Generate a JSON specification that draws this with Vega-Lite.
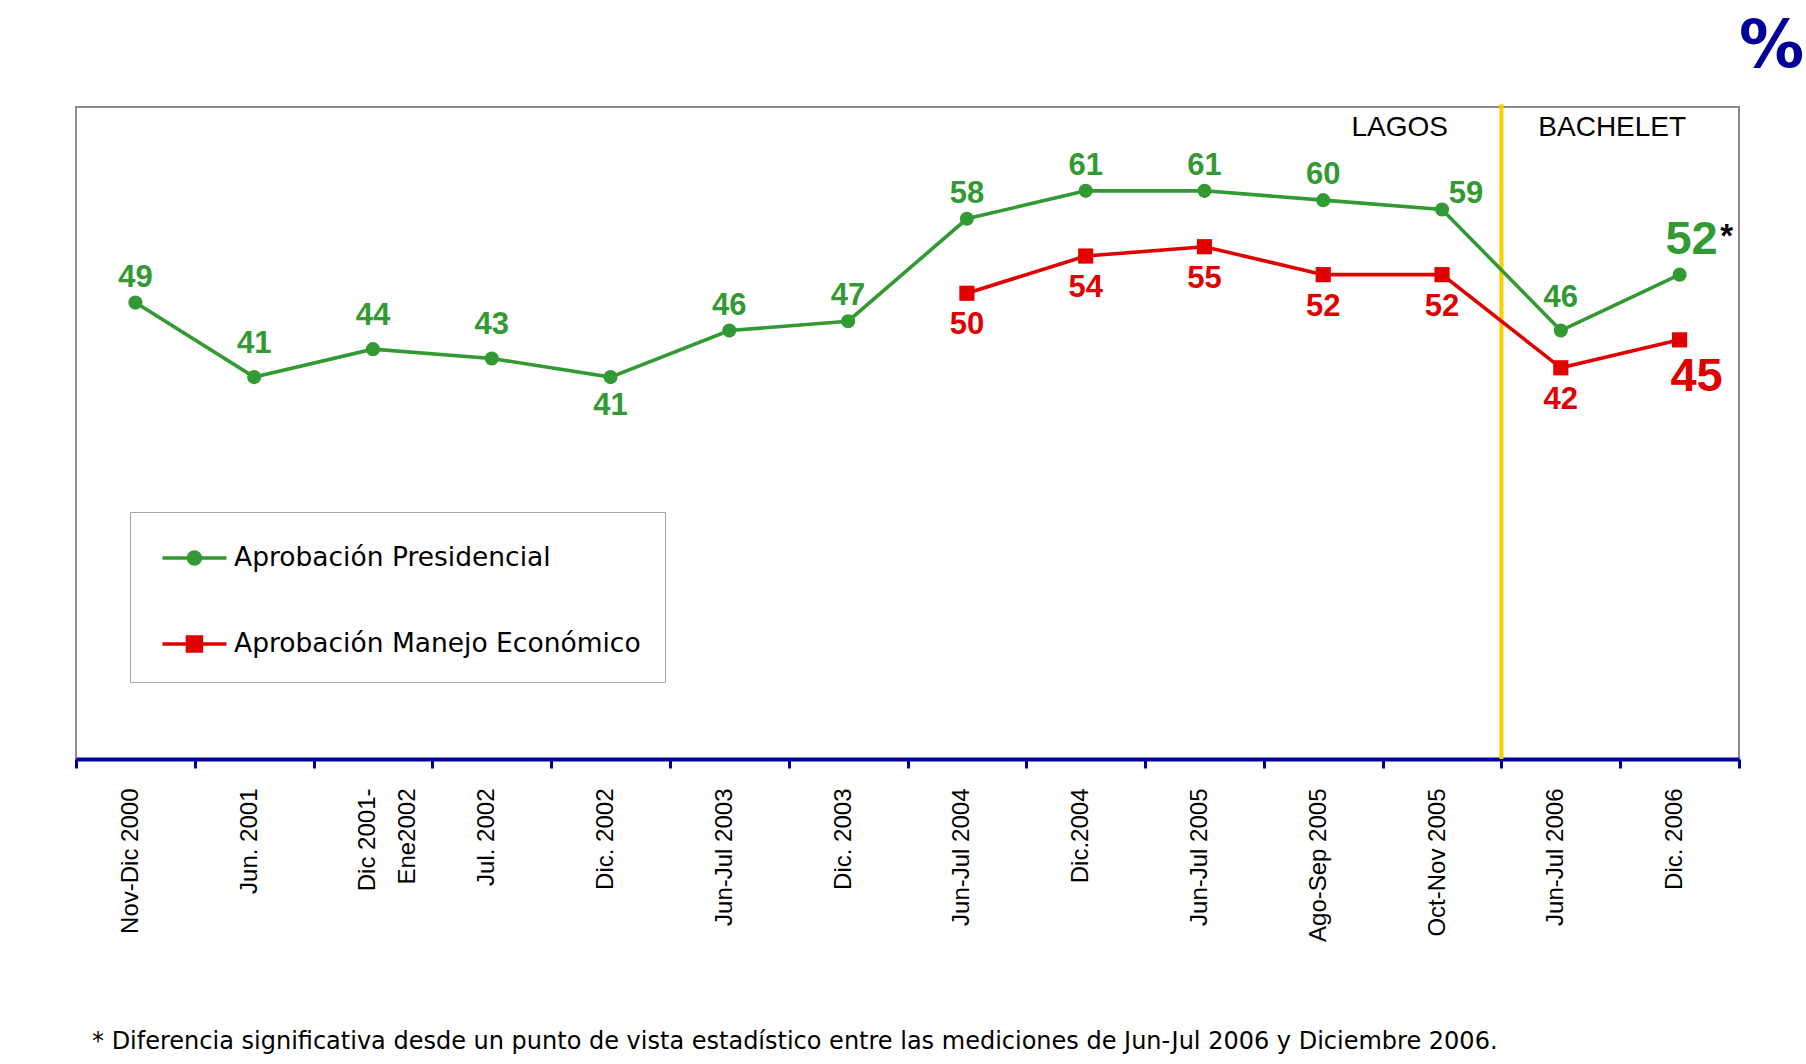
{
  "$schema": "https://vega.github.io/schema/vega-lite/v6.json",
  "width": 1663,
  "height": 652,
  "autosize": {"type": "none"},
  "padding": {"left": 76, "top": 107, "right": 67, "bottom": 305},
  "background": "white",
  "config": {
    "view": {"stroke": "#8c8c8c", "strokeWidth": 2},
    "axisX": {
      "domainColor": "#000099",
      "domainWidth": 4,
      "tickColor": "#000099",
      "tickWidth": 3,
      "tickSize": 9,
      "tickBand": "extent",
      "labelAngle": 270,
      "labelFont": "Liberation Sans",
      "labelFontSize": 24,
      "labelColor": "#000000",
      "labelPadding": 20,
      "labelOffset": -5,
      "labelLimit": 400,
      "labelLineHeight": 40,
      "grid": false
    }
  },
  "data": {
    "values": [
      {"periodo": "Nov-Dic 2000", "serie": "Aprobación Presidencial", "valor": 49},
      {"periodo": "Jun. 2001", "serie": "Aprobación Presidencial", "valor": 41},
      {"periodo": "Dic 2001-\nEne2002", "serie": "Aprobación Presidencial", "valor": 44},
      {"periodo": "Jul. 2002", "serie": "Aprobación Presidencial", "valor": 43},
      {"periodo": "Dic. 2002", "serie": "Aprobación Presidencial", "valor": 41},
      {"periodo": "Jun-Jul 2003", "serie": "Aprobación Presidencial", "valor": 46},
      {"periodo": "Dic. 2003", "serie": "Aprobación Presidencial", "valor": 47},
      {"periodo": "Jun-Jul 2004", "serie": "Aprobación Presidencial", "valor": 58},
      {"periodo": "Dic.2004", "serie": "Aprobación Presidencial", "valor": 61},
      {"periodo": "Jun-Jul 2005", "serie": "Aprobación Presidencial", "valor": 61},
      {"periodo": "Ago-Sep 2005", "serie": "Aprobación Presidencial", "valor": 60},
      {"periodo": "Oct-Nov 2005", "serie": "Aprobación Presidencial", "valor": 59},
      {"periodo": "Jun-Jul 2006", "serie": "Aprobación Presidencial", "valor": 46},
      {"periodo": "Dic. 2006", "serie": "Aprobación Presidencial", "valor": 52},
      {"periodo": "Jun-Jul 2004", "serie": "Aprobación Manejo Económico", "valor": 50},
      {"periodo": "Dic.2004", "serie": "Aprobación Manejo Económico", "valor": 54},
      {"periodo": "Jun-Jul 2005", "serie": "Aprobación Manejo Económico", "valor": 55},
      {"periodo": "Ago-Sep 2005", "serie": "Aprobación Manejo Económico", "valor": 52},
      {"periodo": "Oct-Nov 2005", "serie": "Aprobación Manejo Económico", "valor": 52},
      {"periodo": "Jun-Jul 2006", "serie": "Aprobación Manejo Económico", "valor": 42},
      {"periodo": "Dic. 2006", "serie": "Aprobación Manejo Económico", "valor": 45}
    ]
  },
  "encoding": {
    "x": {
      "field": "periodo",
      "type": "nominal",
      "sort": null,
      "scale": {
        "domain": ["Nov-Dic 2000", "Jun. 2001", "Dic 2001-\nEne2002", "Jul. 2002", "Dic. 2002", "Jun-Jul 2003", "Dic. 2003", "Jun-Jul 2004", "Dic.2004", "Jun-Jul 2005", "Ago-Sep 2005", "Oct-Nov 2005", "Jun-Jul 2006", "Dic. 2006"],
        "paddingInner": 0,
        "paddingOuter": 0
      },
      "axis": {"title": null, "labelExpr": "split(datum.label, '\\n')"}
    },
    "y": {
      "field": "valor",
      "type": "quantitative",
      "scale": {"domain": [0, 70], "nice": false, "zero": true},
      "axis": null
    }
  },
  "layer": [
    {
      "transform": [{"filter": "datum.periodo == 'Nov-Dic 2000' && datum.serie == 'Aprobación Presidencial'"}],
      "mark": {"type": "rule", "color": "#ffcc00", "strokeWidth": 4},
      "encoding": {
        "x": {"datum": "Jun-Jul 2006", "bandPosition": 0},
        "y": {"datum": 0},
        "y2": {"datum": 70.3}
      }
    },
    {
      "transform": [{"filter": {"field": "serie", "equal": "Aprobación Presidencial"}}],
      "mark": {"type": "line", "strokeWidth": 3.6, "color": "#339933"}
    },
    {
      "transform": [{"filter": {"field": "serie", "equal": "Aprobación Manejo Económico"}}],
      "mark": {"type": "line", "strokeWidth": 3.6, "color": "#e00000"}
    },
    {
      "transform": [{"filter": {"field": "serie", "equal": "Aprobación Presidencial"}}],
      "mark": {"type": "point", "shape": "circle", "filled": true, "size": 200, "color": "#339933", "opacity": 1}
    },
    {
      "transform": [{"filter": {"field": "serie", "equal": "Aprobación Manejo Económico"}}],
      "mark": {"type": "point", "shape": "square", "filled": true, "size": 230, "color": "#e00000", "opacity": 1}
    },
    {
      "mark": {"type": "point", "filled": true, "opacity": 0},
      "encoding": {
        "color": {
          "field": "serie",
          "type": "nominal",
          "scale": {"domain": ["Aprobación Presidencial", "Aprobación Manejo Económico"], "range": ["#339933", "#e00000"]},
          "legend": {
            "title": null,
            "orient": "none",
            "legendX": 54,
            "legendY": 405,
            "direction": "vertical",
            "padding": 24,
            "strokeColor": "#a6a6a6",
            "fillColor": "white",
            "symbolSize": 1600,
            "symbolStrokeWidth": 3.5,
            "symbolOpacity": 1,
            "labelFont": "DejaVu Sans",
            "labelFontSize": 26.5,
            "labelColor": "#000000",
            "labelOffset": 36,
            "labelLimit": 600,
            "rowPadding": 50,
            "encode": {"symbols": {"update": {"stroke": {"scale": "color", "field": "value"}, "fill": {"scale": "color", "field": "value"}, "opacity": {"value": 1}, "fillOpacity": {"value": 1}, "strokeOpacity": {"value": 1}}}}
          }
        },
        "shape": {
          "field": "serie",
          "type": "nominal",
          "scale": {
            "domain": ["Aprobación Presidencial", "Aprobación Manejo Económico"],
            "range": [
              "M-0.675,0H2.525M1.22,0A0.3,0.3,0,1,1,0.62,0A0.3,0.3,0,1,1,1.22,0Z",
              "M-0.675,0H2.525M0.57,-0.35H1.27V0.35H0.57Z"
            ]
          },
          "legend": {
            "title": null,
            "orient": "none",
            "legendX": 54,
            "legendY": 405,
            "direction": "vertical",
            "padding": 24,
            "strokeColor": "#a6a6a6",
            "fillColor": "white",
            "symbolSize": 1600,
            "symbolStrokeWidth": 3.5,
            "symbolOpacity": 1,
            "labelFont": "DejaVu Sans",
            "labelFontSize": 26.5,
            "labelColor": "#000000",
            "labelOffset": 36,
            "labelLimit": 600,
            "rowPadding": 50,
            "encode": {"symbols": {"update": {"stroke": {"scale": "color", "field": "value"}, "fill": {"scale": "color", "field": "value"}, "opacity": {"value": 1}, "fillOpacity": {"value": 1}, "strokeOpacity": {"value": 1}}}}
          }
        }
      }
    },
    {
      "transform": [{"filter": {"and": [{"field": "serie", "equal": "Aprobación Presidencial"}, {"field": "periodo", "oneOf": ["Nov-Dic 2000", "Jun-Jul 2003", "Dic. 2003", "Jun-Jul 2004", "Dic.2004", "Jun-Jul 2005", "Ago-Sep 2005"]}]}}],
      "mark": {"type": "text", "font": "Liberation Sans", "fontWeight": "bold", "fontSize": 31, "color": "#339933", "dy": -25},
      "encoding": {"text": {"field": "valor", "type": "quantitative"}}
    },
    {
      "transform": [{"filter": {"and": [{"field": "serie", "equal": "Aprobación Presidencial"}, {"field": "periodo", "oneOf": ["Jun. 2001", "Dic 2001-\nEne2002", "Jul. 2002", "Jun-Jul 2006"]}]}}],
      "mark": {"type": "text", "font": "Liberation Sans", "fontWeight": "bold", "fontSize": 31, "color": "#339933", "dy": -33},
      "encoding": {"text": {"field": "valor", "type": "quantitative"}}
    },
    {
      "transform": [{"filter": {"and": [{"field": "serie", "equal": "Aprobación Presidencial"}, {"field": "periodo", "equal": "Dic. 2002"}]}}],
      "mark": {"type": "text", "font": "Liberation Sans", "fontWeight": "bold", "fontSize": 31, "color": "#339933", "dy": 29},
      "encoding": {"text": {"field": "valor", "type": "quantitative"}}
    },
    {
      "transform": [{"filter": {"and": [{"field": "serie", "equal": "Aprobación Presidencial"}, {"field": "periodo", "equal": "Oct-Nov 2005"}]}}],
      "mark": {"type": "text", "font": "Liberation Sans", "fontWeight": "bold", "fontSize": 31, "color": "#339933", "dx": 24, "dy": -15},
      "encoding": {"text": {"field": "valor", "type": "quantitative"}}
    },
    {
      "transform": [{"filter": {"and": [{"field": "serie", "equal": "Aprobación Presidencial"}, {"field": "periodo", "equal": "Dic. 2006"}]}}],
      "mark": {"type": "text", "font": "Liberation Sans", "fontWeight": "bold", "fontSize": 47, "color": "#339933", "dx": 12, "dy": -35},
      "encoding": {"text": {"field": "valor", "type": "quantitative"}}
    },
    {
      "transform": [{"filter": {"and": [{"field": "serie", "equal": "Aprobación Manejo Económico"}, {"field": "periodo", "oneOf": ["Jun-Jul 2004", "Dic.2004", "Jun-Jul 2005", "Ago-Sep 2005", "Oct-Nov 2005", "Jun-Jul 2006"]}]}}],
      "mark": {"type": "text", "font": "Liberation Sans", "fontWeight": "bold", "fontSize": 31, "color": "#e00000", "dy": 32},
      "encoding": {"text": {"field": "valor", "type": "quantitative"}}
    },
    {
      "transform": [{"filter": {"and": [{"field": "serie", "equal": "Aprobación Manejo Económico"}, {"field": "periodo", "equal": "Dic. 2006"}]}}],
      "mark": {"type": "text", "font": "Liberation Sans", "fontWeight": "bold", "fontSize": 47, "color": "#e00000", "dx": 17, "dy": 37},
      "encoding": {"text": {"field": "valor", "type": "quantitative"}}
    },
    {
      "transform": [{"filter": "datum.periodo == 'Dic. 2006' && datum.serie == 'Aprobación Presidencial'"}],
      "mark": {"type": "text", "text": "*", "font": "Liberation Sans", "fontWeight": "bold", "fontSize": 33, "color": "#000000", "dx": 47, "dy": -38}
    },
    {
      "transform": [{"filter": "datum.periodo == 'Nov-Dic 2000' && datum.serie == 'Aprobación Presidencial'"}],
      "mark": {"type": "text", "text": "LAGOS", "font": "Liberation Sans", "fontWeight": "normal", "fontSize": 28, "color": "#000000", "dx": 17},
      "encoding": {"x": {"datum": "Oct-Nov 2005", "bandPosition": 0}, "y": {"datum": 67.7}}
    },
    {
      "transform": [{"filter": "datum.periodo == 'Nov-Dic 2000' && datum.serie == 'Aprobación Presidencial'"}],
      "mark": {"type": "text", "text": "BACHELET", "font": "Liberation Sans", "fontWeight": "normal", "fontSize": 28, "color": "#000000", "dx": -8},
      "encoding": {"x": {"datum": "Dic. 2006", "bandPosition": 0}, "y": {"datum": 67.7}}
    },
    {
      "transform": [{"filter": "datum.periodo == 'Nov-Dic 2000' && datum.serie == 'Aprobación Presidencial'"}],
      "mark": {"type": "text", "text": "%", "font": "DejaVu Sans", "fontWeight": "bold", "fontSize": 65, "color": "#000099", "align": "left", "baseline": "alphabetic", "dx": 0},
      "encoding": {"x": {"datum": "Dic. 2006", "bandPosition": 1}, "y": {"datum": 74.3}}
    },
    {
      "transform": [{"filter": "datum.periodo == 'Nov-Dic 2000' && datum.serie == 'Aprobación Presidencial'"}],
      "mark": {"type": "text", "text": "* Diferencia significativa desde un punto de vista estadístico entre las mediciones de Jun-Jul 2006 y Diciembre 2006.", "font": "DejaVu Sans", "fontWeight": "normal", "fontSize": 24, "color": "#000000", "align": "left", "dx": 16},
      "encoding": {"x": {"datum": "Nov-Dic 2000", "bandPosition": 0}, "y": {"datum": -30.4}}
    }
  ]
}
